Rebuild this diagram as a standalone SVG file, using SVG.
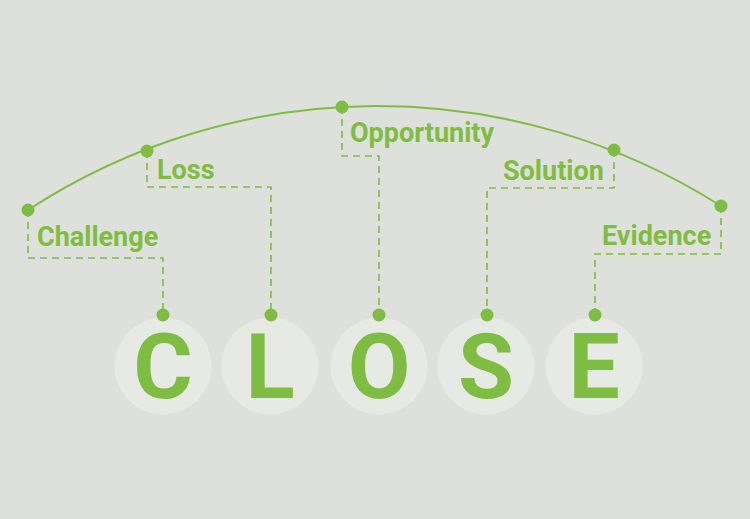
<svg xmlns="http://www.w3.org/2000/svg" width="750" height="519" viewBox="0 0 750 519">
<style>
.bg{fill:#dee0db}
.disc{fill:#e7e9e4}
.dot{fill:#7fbc42}
.arc{fill:none;stroke:#7fbc42;stroke-width:2}
.dash{fill:none;stroke:#7fbc42;stroke-width:1.6;stroke-dasharray:7 5}
.lbl{font-family:Roboto,"Liberation Sans",sans-serif;font-weight:700;font-size:27px;fill:#7fbc42}
.big{font-family:Roboto,"Liberation Sans",sans-serif;font-weight:700;font-size:91px;fill:#7fbc42;text-anchor:middle}
</style>
<rect class="bg" x="0" y="0" width="750" height="519"/>
<g id="connectors">
<path class="arc" d="M28,210 A640,640 0 0 1 721,206"/>
<path class="dash" d="M28,210 V258 H163 V315"/>
<path class="dash" d="M147,151 V187 H271 V315"/>
<path class="dash" d="M342,107 V156 H379 V315"/>
<path class="dash" d="M614,150 V188 H487 V315"/>
<path class="dash" d="M721,206 V254 H595 V315"/>
</g>
<g id="challenge">
<circle class="dot" cx="28" cy="210" r="6.5"/>
<text class="lbl" x="37" y="246">Challenge</text>
</g>
<g id="loss">
<circle class="dot" cx="147" cy="151" r="6.5"/>
<text class="lbl" x="157" y="179">Loss</text>
</g>
<g id="opportunity">
<circle class="dot" cx="342" cy="107" r="6.5"/>
<text class="lbl" x="350" y="142">Opportunity</text>
</g>
<g id="solution">
<circle class="dot" cx="614" cy="150" r="6.5"/>
<text class="lbl" x="503" y="180">Solution</text>
</g>
<g id="evidence">
<circle class="dot" cx="721" cy="206" r="6.5"/>
<text class="lbl" x="602" y="245">Evidence</text>
</g>
<g id="letter-c">
<circle class="disc" cx="163" cy="366" r="48.5"/>
<circle class="dot" cx="163" cy="315" r="6.5"/>
<text class="big" x="163" y="398">C</text>
</g>
<g id="letter-l">
<circle class="disc" cx="270" cy="366" r="48.5"/>
<circle class="dot" cx="271" cy="315" r="6.5"/>
<text class="big" x="270" y="398">L</text>
</g>
<g id="letter-o">
<circle class="disc" cx="379" cy="366" r="48.5"/>
<circle class="dot" cx="379" cy="315" r="6.5"/>
<text class="big" x="379" y="398">O</text>
</g>
<g id="letter-s">
<circle class="disc" cx="486" cy="366" r="48.5"/>
<circle class="dot" cx="487" cy="315" r="6.5"/>
<text class="big" x="486" y="398">S</text>
</g>
<g id="letter-e">
<circle class="disc" cx="594" cy="366" r="48.5"/>
<circle class="dot" cx="595" cy="315" r="6.5"/>
<text class="big" x="594" y="398">E</text>
</g>
</svg>
